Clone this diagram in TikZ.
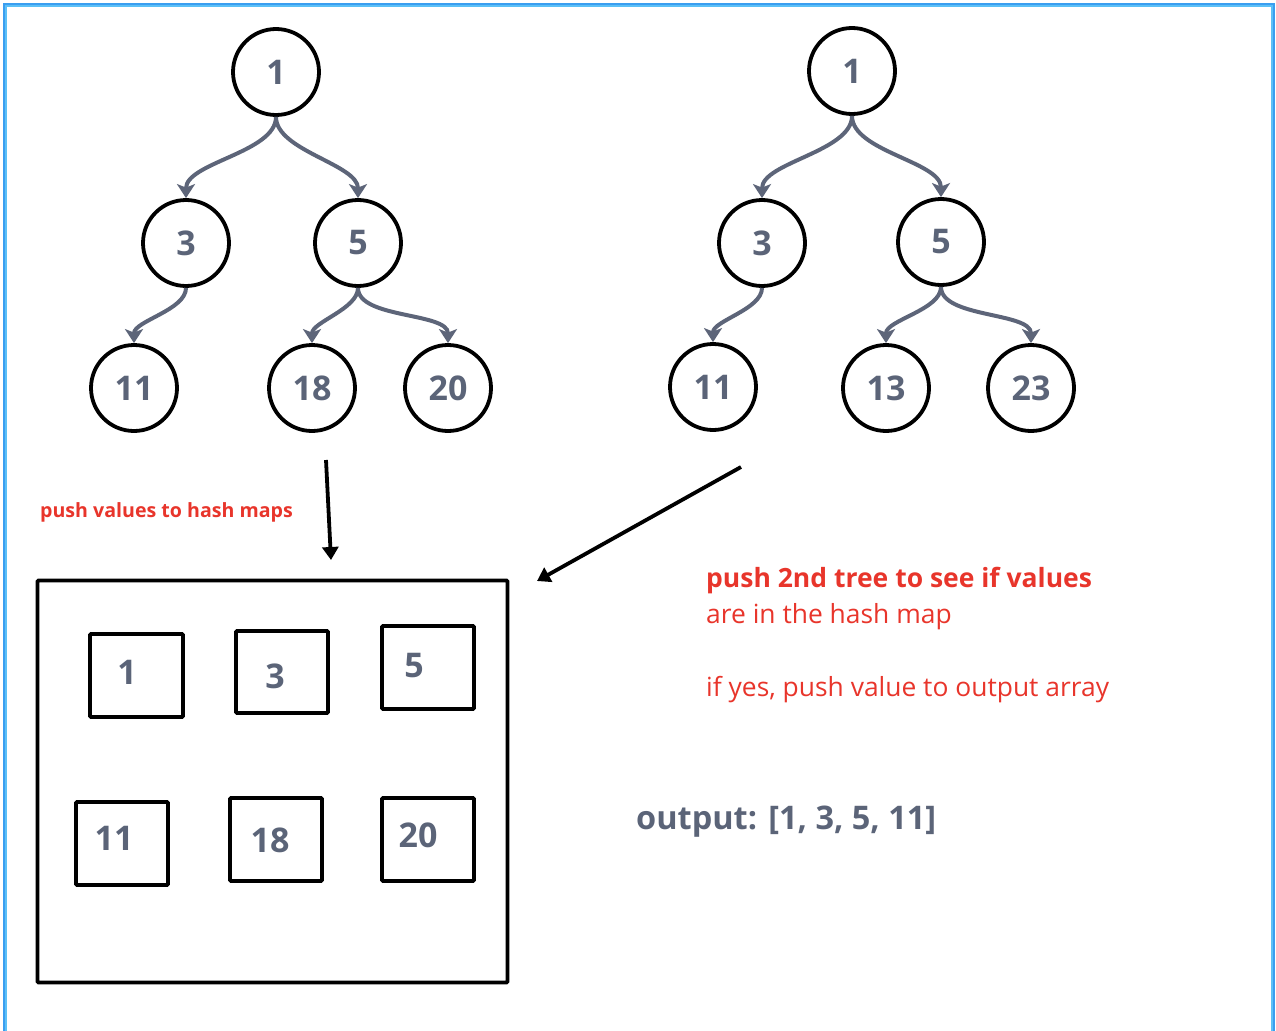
\documentclass[tikz,border=0pt]{standalone}
\usepackage{fontspec}
\setmainfont{Open Sans}
\usetikzlibrary{arrows.meta}
\definecolor{txtgray}{HTML}{5B6478}
\definecolor{edgegray}{HTML}{5D6579}
\definecolor{redtxt}{HTML}{E8352B}
\definecolor{bluedark}{HTML}{3A9EF0}
\definecolor{bluelight}{HTML}{5CC0F7}
\begin{document}
\begin{tikzpicture}[x=1pt,y=-1pt,
  tnode/.style={circle,draw=black,line width=3.8pt,minimum size=86pt,inner sep=0pt,
    font=\fontsize{34}{34}\selectfont\bfseries,text=txtgray},
  tedge/.style={draw=edgegray,line width=4pt,-{Stealth[length=14pt,width=18pt,inset=3.5pt]},
    out=-90,in=90,looseness=0.75},
  hbox/.style={draw=black,line width=3.6pt,rounded corners=1pt,inner sep=0pt},
  hnum/.style={font=\fontsize{34}{34}\selectfont\bfseries,text=txtgray,inner sep=0pt},
  blackarrow/.style={draw=black,line width=3.8pt,-{Triangle[length=13pt,width=16pt]}},
  redbold/.style={font=\fontsize{26.5}{26.5}\selectfont\bfseries,text=redtxt,inner sep=0pt,anchor=base west},
  redreg/.style={font=\fontsize{26.4}{26.4}\selectfont,text=redtxt,inner sep=0pt,anchor=base west}
]
\useasboundingbox (0,0) rectangle (1276,1030);
\clip (0,0) rectangle (1276,1030);
% frame
\draw[bluedark,line width=2.2pt] (3.7,1100) -- (3.7,3.7) -- (1273.8,3.7) -- (1273.8,1100);
\draw[bluelight,line width=2.2pt] (5.9,1100) -- (5.9,5.9) -- (1271.6,5.9) -- (1271.6,1100);

% tree 1
\node[tnode] (a1) at (276,72) {1};
\node[tnode] (a3) at (186,243) {3};
\node[tnode] (a5) at (358,243) {5};
\node[tnode] (a11) at (134,388) {11};
\node[tnode] (a18) at (312,388) {18};
\node[tnode] (a20) at (448,388) {20};
\draw[tedge] (a1.south) to (a3.north);
\draw[tedge] (a1.south) to (a5.north);
\draw[tedge] (a3.south) to (a11.north);
\draw[tedge] (a5.south) to (a18.north);
\draw[tedge] (a5.south) to (a20.north);

% tree 2
\node[tnode] (b1) at (852,71) {1};
\node[tnode] (b3) at (762,243) {3};
\node[tnode] (b5) at (941,242) {5};
\node[tnode] (b11) at (713,387) {11};
\node[tnode] (b13) at (886,388) {13};
\node[tnode] (b23) at (1031,388) {23};
\draw[tedge] (b1.south) to (b3.north);
\draw[tedge] (b1.south) to (b5.north);
\draw[tedge] (b3.south) to (b11.north);
\draw[tedge] (b5.south) to (b13.north);
\draw[tedge] (b5.south) to (b23.north);

% hash map
\node[hbox,minimum width=470pt,minimum height=402pt] (hm) at (272.5,781.5) {};
\node[hbox,minimum width=93pt,minimum height=83pt] (h1) at (136.5,675.5) {};
\node[hbox,minimum width=92pt,minimum height=82pt] (h3) at (282,672) {};
\node[hbox,minimum width=92pt,minimum height=83pt] (h5) at (428,667.5) {};
\node[hbox,minimum width=92pt,minimum height=83pt] (h11) at (122,843.5) {};
\node[hbox,minimum width=92pt,minimum height=83pt] (h18) at (276,839.5) {};
\node[hbox,minimum width=92pt,minimum height=83pt] (h20) at (428,839.5) {};
\node[hnum] at (127,672) {1};
\node[hnum] at (275,676) {3};
\node[hnum] at (414,666) {5};
\node[hnum] at (114,838) {11};
\node[hnum] at (270,840) {18};
\node[hnum] at (418,835) {20};

% arrows
\coordinate (s1) at (326,460);
\coordinate (e1) at (331,560);
\draw[blackarrow] (s1) -- (e1);
\coordinate (s2) at (741,467);
\coordinate (e2) at (537,581);
\draw[blackarrow] (s2) -- (e2);

% texts
\node[font=\fontsize{19.6}{19.6}\selectfont\bfseries,text=redtxt,inner sep=0pt,anchor=base west] (lab1) at (40,517) {push values to hash maps};
\node[redbold] (t1) at (706,587) {push 2nd tree to see if values};
\node[redreg] (t2) at (706,623) {are in the hash map};
\node[redreg] (t3) at (706,696) {if yes, push value to output array};
\node[font=\fontsize{32.5}{32.5}\selectfont\bfseries,text=txtgray,inner sep=0pt,anchor=base west] (out) at (636,829) {output: [1, 3, 5, 11]};
\end{tikzpicture}
\end{document}
